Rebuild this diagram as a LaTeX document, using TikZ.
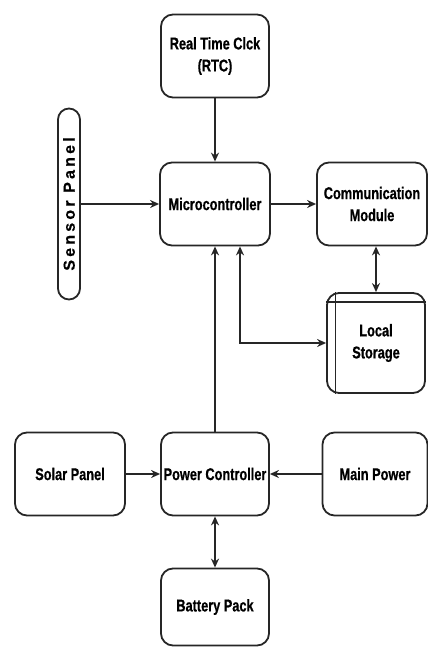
\documentclass[tikz,border=0pt]{standalone}
\usepackage{fontspec}
\newfontfamily\blockfont[FakeStretch=0.75, FakeBold=0.6]{Liberation Sans Bold}
\newfontfamily\sensorfont[LetterSpace=20, FakeBold=0.4]{Liberation Sans Bold}
\usetikzlibrary{shapes, arrows.meta, positioning}

\begin{document}
\begin{tikzpicture}[
        x=1pt, y=1pt,
        node distance=150pt,
        block/.style={rectangle, rounded corners=12pt, minimum width=108pt, minimum height=83pt, inner sep=1pt, text centered, align=center, draw=black!85, line width=1.8pt, font=\blockfont\fontsize{17}{22}\selectfont},
        sensorbox/.style={rectangle, rounded corners=11pt, minimum width=191pt, minimum height=22pt, inner sep=0pt, text centered, draw=black!85, line width=1.8pt, rotate=90, font=\sensorfont\fontsize{16}{18}\selectfont},
        arrow/.style={line width=1.8pt, draw=black!85, ->, >={Stealth[length=9pt, width=8pt]}}
        ]
        \useasboundingbox (0,0) rectangle (428,648);

        \node (mcu) [block, minimum width=110pt] at (215,444) {Microcontroller};
        \node (rtc) [block, above of=mcu, node distance=148pt] {Real Time Clck\\(RTC)};
        \node (comm) [block, right of=mcu, node distance=157pt, minimum width=110pt] {Communication\\Module};
        \node (sensor) [sensorbox] at (69,444) {Sensor Panel};
        \node (store) [block, minimum width=98pt, minimum height=100pt] at (376,305) {Local\\Storage};
        \node (power) [block, below of=mcu, node distance=270pt] {Power Controller};
        \node (solar) [block, left of=power, node distance=145pt, minimum width=110pt] {Solar Panel};
        \node (mains) [block, right of=power, node distance=160pt, minimum width=105pt] {Main Power};
        \node (battery) [block, below of=power, node distance=133pt, minimum height=77pt] {Battery Pack};

        % storage symbol lines
        \draw [line width=1.2pt, black!85] ([yshift=-10pt]store.north west) -- ([yshift=-10pt]store.north east);
        \draw [line width=1.2pt, black!85] ([xshift=9pt]store.north west) -- ([xshift=9pt]store.south west);

        \draw [arrow] (rtc) -- (mcu);
        \draw [arrow] (sensor.south) -- (mcu.west);
        \draw [arrow] (mcu) -- (comm);
        \draw [arrow, <->] (store.north |- comm.south) -- (store.north);
        \draw [arrow, <->] ([xshift=25pt]mcu.south) |- (store.west);
        \draw [arrow] (power) -- (mcu);
        \draw [arrow] (solar) -- (power);
        \draw [arrow] (mains) -- (power);
        \draw [arrow, <->] (power) -- (battery);

    \end{tikzpicture}
\end{document}
